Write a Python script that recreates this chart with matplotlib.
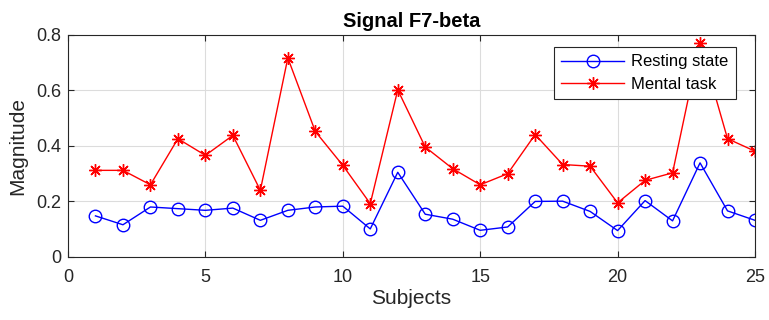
import matplotlib.pyplot as plt

plt.rcParams['font.family'] = ['Liberation Sans', 'DejaVu Sans']

subjects = list(range(1, 26))
resting = [0.148, 0.116, 0.180, 0.174, 0.168, 0.176, 0.132, 0.168, 0.180, 0.183,
           0.101, 0.305, 0.154, 0.136, 0.096, 0.108, 0.200, 0.201, 0.164, 0.095,
           0.203, 0.130, 0.339, 0.166, 0.132]
mental = [0.312, 0.312, 0.260, 0.426, 0.366, 0.438, 0.240, 0.717, 0.452, 0.330,
          0.192, 0.602, 0.396, 0.318, 0.260, 0.300, 0.441, 0.333, 0.327, 0.195,
          0.276, 0.303, 0.771, 0.426, 0.381]

fig = plt.figure(figsize=(7.69, 3.2), dpi=100)
ax = fig.add_axes([0.0884, 0.197, 0.8934, 0.694])

ax.plot(subjects, resting, color='#0000ff', lw=1, marker='o', ms=9,
        mfc='none', mec='#0000ff', mew=1, label='Resting state')
ax.plot(subjects, mental, color='#ff0000', lw=1, marker=(8, 2, 0), ms=9,
        mec='#ff0000', mew=1, label='Mental task')

ax.set_xlim(0, 25)
ax.set_ylim(0, 0.8)
ax.set_xticks([0, 5, 10, 15, 20, 25])
ax.set_yticks([0, 0.2, 0.4, 0.6, 0.8])
ax.set_yticklabels(['0', '0.2', '0.4', '0.6', '0.8'])
ax.tick_params(direction='in', labelsize=13, length=4, top=True, right=True,
               colors='#262626')
ax.tick_params(axis='x', pad=9)
ax.tick_params(axis='y', pad=5)
ax.grid(True, color='#dcdcdc', lw=0.8)
ax.set_axisbelow(True)
for s in ax.spines.values():
    s.set_color('#262626')

ax.set_title('Signal F7-beta', fontsize=14.5, fontweight='bold', pad=6)
ax.set_xlabel('Subjects', fontsize=15, labelpad=2, color='#262626')
ax.set_ylabel('Magnitude', fontsize=15, labelpad=6, color='#262626')

leg = ax.legend(loc='upper right', bbox_to_anchor=(0.972, 0.946), borderaxespad=0,
                fontsize=12, fancybox=False, edgecolor='#262626', framealpha=1,
                handlelength=3.8, handletextpad=0.4, borderpad=0.45,
                labelspacing=0.45)
leg.get_frame().set_linewidth(0.8)

fig.savefig('out.png', dpi=100)
